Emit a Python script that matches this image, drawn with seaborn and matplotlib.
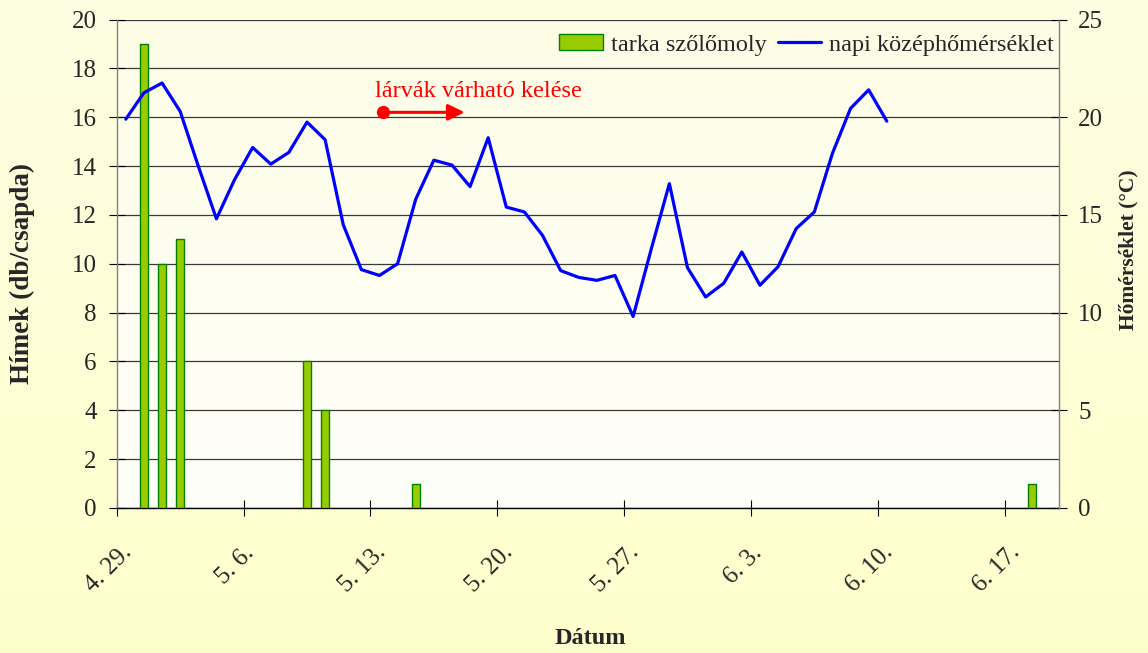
import matplotlib.pyplot as plt
import matplotlib.transforms as mtransforms
import numpy as np
import pandas as pd
import seaborn as sns
from matplotlib.colors import LinearSegmentedColormap
from matplotlib.lines import Line2D
from matplotlib.patches import Patch


YEAR = 2010
FIRST_DAY = f"{YEAR}-04-29"
LAST_DAY = f"{YEAR}-06-19"

# male moths caught per trap
TRAP_DATES = ["04-30", "05-01", "05-02", "05-09", "05-10", "05-15", "06-18"]
MALE_COUNTS = [19, 10, 11, 6, 4, 1, 1]

# daily mean temperature (°C) from 04-29 on
TEMP_START = "04-29"
DAILY_MEAN_TEMP = [
    19.9, 21.25, 21.75, 20.3, 17.5, 14.8, 16.8, 18.45, 17.6, 18.2,
    19.75, 18.85, 14.5, 12.2, 11.9, 12.5, 15.8, 17.8, 17.55, 16.45,
    18.95, 15.4, 15.15, 13.95, 12.15, 11.8, 11.65, 11.9, 9.8, 13.25,
    16.6, 12.3, 10.8, 11.5, 13.1, 11.4, 12.35, 14.3, 15.15, 18.15,
    20.45, 21.4, 19.8,
]

BAR_LABEL = "tarka szőlőmoly"
LINE_LABEL = "napi középhőmérséklet"
ANNOTATION_TEXT = "lárvák várható kelése"
LEFT_YLABEL = "Hímek (db/csapda)"
RIGHT_YLABEL = "Hőmérséklet (°C)"
XLABEL = "Dátum"

BAR_COLOR = "#99CC00"
BAR_EDGE = "#008000"
LINE_COLOR = "#0000FF"
NOTE_COLOR = "#FF0000"
FONT = ["Liberation Serif", "DejaVu Serif"]


def build_frames():
    """Turn the small lists into frames indexed by day position."""
    days = pd.date_range(FIRST_DAY, LAST_DAY, freq="D")
    keys = list(days.strftime("%m-%d"))
    traps = pd.DataFrame({
        "pos": [keys.index(d) for d in TRAP_DATES],
        "count": MALE_COUNTS,
    })
    start = keys.index(TEMP_START)
    temps = pd.DataFrame({
        "pos": np.arange(start, start + len(DAILY_MEAN_TEMP)),
        "temp": DAILY_MEAN_TEMP,
    })
    return days, traps, temps


def add_backgrounds(fig, ax):
    fig_cmap = LinearSegmentedColormap.from_list("fig_bg", ["#FDFDE2", "#FFFFCC"])
    bg = fig.add_axes([0, 0, 1, 1], zorder=-10)
    bg.imshow(np.linspace(0, 1, 256).reshape(-1, 1), aspect="auto", cmap=fig_cmap,
              extent=[0, 1, 0, 1])
    bg.axis("off")

    plot_cmap = LinearSegmentedColormap.from_list("ax_bg", ["#FDFDE6", "#FFFFFA"])
    ax.patch.set_visible(False)
    ax.imshow(np.linspace(0, 1, 256).reshape(-1, 1), aspect="auto", cmap=plot_cmap,
              extent=[0, 1, 0, 1], transform=ax.transAxes, zorder=-5)


def main():
    sns.set_theme(style="white")
    plt.rcParams["font.family"] = FONT
    plt.rcParams["font.size"] = 17.5

    days, traps, temps = build_frames()

    fig = plt.figure(figsize=(11.48, 6.53), dpi=100)
    ax = fig.add_axes([0.1017, 0.2221, 0.8207, 0.748])
    add_backgrounds(fig, ax)

    sns.barplot(data=traps, x="pos", y="count", native_scale=True, orient="x",
                color=BAR_COLOR, edgecolor=BAR_EDGE, linewidth=1.0, saturation=1,
                width=0.44, ax=ax, zorder=3)

    ax2 = ax.twinx()
    sns.lineplot(data=temps, x="pos", y="temp", color=LINE_COLOR, linewidth=2.3,
                 errorbar=None, ax=ax2)

    n_days = len(days)
    ax.set_xlim(-0.5, n_days - 0.5)
    ax.set_ylim(0, 20)
    ax2.set_ylim(0, 25)
    ax.set_yticks(np.arange(0, 21, 2))
    ax2.set_yticks(np.arange(0, 26, 5))

    tick_pos = np.arange(0, n_days, 7) - 0.5
    tick_lab = [f"{d.month}. {d.day}." for d in days[::7]]
    ax.set_xticks(tick_pos)
    ax.set_xticklabels(tick_lab, rotation=45, ha="center", va="top")

    ax.grid(axis="y", color="#3a3a3a", linewidth=0.9)
    ax.grid(axis="x", visible=False)
    ax.set_axisbelow(True)

    for a in (ax, ax2):
        a.spines["top"].set_visible(False)
    ax.spines["right"].set_visible(False)
    ax.spines["left"].set_color("#808080")
    ax2.spines["right"].set_color("#808080")
    ax2.spines["left"].set_visible(False)
    ax2.spines["bottom"].set_visible(False)
    ax.spines["bottom"].set_color("black")
    for s in ("left", "bottom"):
        ax.spines[s].set_linewidth(1.0)
    ax2.spines["right"].set_linewidth(1.0)

    ax.tick_params(axis="x", direction="inout", length=11.5, width=0.8, color="black",
                   pad=18.5, labelsize=18, bottom=True)
    ax.tick_params(axis="y", direction="inout", length=11.5, width=0.8, color="black",
                   pad=8.6, labelsize=18, left=True)
    ax2.tick_params(axis="y", direction="inout", length=11.5, width=0.8, color="black",
                    pad=8.0, labelsize=18, right=True)

    shift = mtransforms.ScaledTranslation(-8 / 100, 0, fig.dpi_scale_trans)
    for lbl in ax.get_xticklabels():
        lbl.set_transform(lbl.get_transform() + shift)

    ax.set_xlabel("")
    ax.set_ylabel("")
    ax2.set_xlabel("")
    ax2.set_ylabel("")
    fig.text(22 / 1148, 1 - 273 / 653, LEFT_YLABEL, fontweight="bold", fontsize=19.5,
             rotation=90, ha="center", va="center")
    fig.text(1128 / 1148, 1 - 250 / 653, RIGHT_YLABEL, fontweight="bold", fontsize=15.5,
             rotation=90, ha="center", va="center")
    fig.text(0.514, 1 - 639 / 653, XLABEL, fontweight="bold", fontsize=17.5,
             ha="center", va="center")

    # hatching note: expected larval emergence
    note_start = (14.2, 16.2)
    note_end = (18.7, 16.2)
    ax.annotate("", xy=note_end, xytext=note_start,
                arrowprops=dict(arrowstyle="-|>,head_length=0.55,head_width=0.27",
                                color=NOTE_COLOR, lw=2.2, mutation_scale=18,
                                shrinkA=0, shrinkB=0), zorder=6)
    ax.plot([note_start[0]], [note_start[1]], "o", color=NOTE_COLOR, markersize=8.5,
            zorder=7)
    ax.text(13.76, 16.81, ANNOTATION_TEXT, color=NOTE_COLOR, fontsize=17.5,
            ha="left", va="baseline", zorder=7)

    handles = [
        Patch(facecolor=BAR_COLOR, edgecolor=BAR_EDGE, linewidth=1.0, label=BAR_LABEL),
        Line2D([], [], color=LINE_COLOR, linewidth=2.3, label=LINE_LABEL),
    ]
    ax2.legend(handles=handles, loc="center right", bbox_to_anchor=(0.995, 0.948),
               ncol=2, frameon=False, borderpad=0, borderaxespad=0,
               handlelength=1.8, handleheight=0.62, handletextpad=0.33,
               columnspacing=0.45, fontsize=17.5)

    fig.savefig("out.png", dpi=100)
    plt.close(fig)


if __name__ == "__main__":
    main()
